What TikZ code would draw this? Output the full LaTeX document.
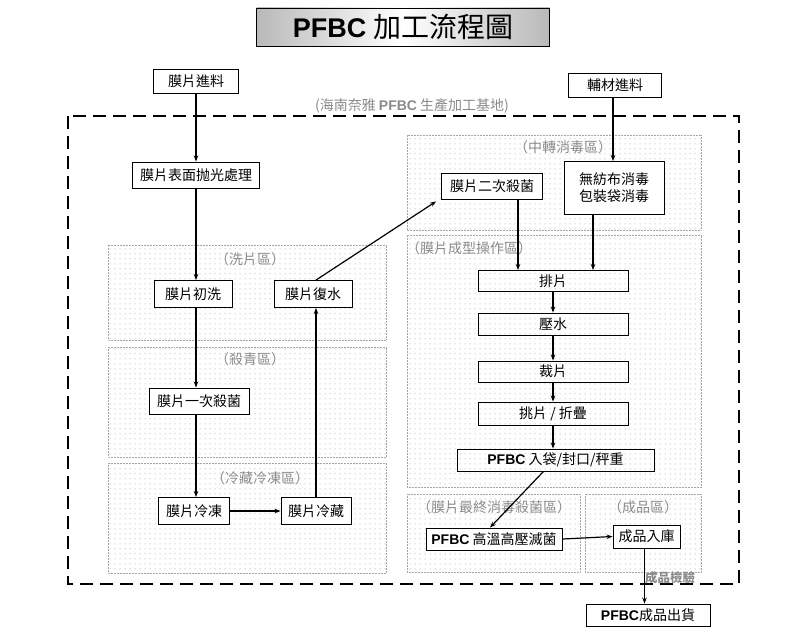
\documentclass[tikz,border=0pt]{standalone}
\usepackage{fontspec}
\setmainfont{Liberation Sans}
\newfontfamily\cjk{Noto Sans CJK TC}
\usetikzlibrary{arrows.meta,patterns.meta}
\newcommand\pfb[1]{{\normalfont\bfseries #1}}
\definecolor{lblgray}{HTML}{8A8A8A}
\begin{document}
\begin{tikzpicture}[x=1pt,y=-1pt,
  box/.style={draw, line width=0.9pt, fill=white, inner sep=0pt, align=center,
    font=\cjk\fontsize{14}{17}\selectfont},
  obox/.style={box, fill=none},
  region/.style={draw=gray!70, densely dotted, line width=0.5pt,
    pattern={Dots[distance=5pt,radius=0.5pt]}, pattern color=gray!90},
  rlabel/.style={text=lblgray, inner sep=0pt, font=\cjk\fontsize{14}{17}\selectfont},
  arr/.style={-{Stealth[length=6pt,width=4.5pt]}, line width=1.2pt},
]
\useasboundingbox (0,0) rectangle (803,644);

% title
\node[draw, line width=0.9pt, minimum width=293pt, minimum height=38pt, inner sep=0pt,
  left color=gray!55, right color=gray!55, middle color=white] (title) at (403,27)
  {\pfb{\fontsize{27}{30}\selectfont PFBC}\hspace{7pt}{\cjk\fontsize{28}{30}\selectfont 加工流程圖}};

% regions
\draw[region] (407,135) rectangle (701,230);
\draw[region] (407,235) rectangle (701,487);
\draw[region] (407,494) rectangle (580,572);
\draw[region] (585,494) rectangle (701,572);
\draw[region] (108,245) rectangle (386,340);
\draw[region] (108,347) rectangle (386,457);
\draw[region] (108,463) rectangle (386,573);

\node[rlabel] (lmid) at (563,147) {（中轉消毒區）};
\node[rlabel, anchor=west] (lform) at (406,248) {（膜片成型操作區）};
\node[rlabel] (lfin) at (494,507) {（膜片最終消毒殺菌區）};
\node[rlabel] (lprod) at (643,507) {（成品區）};
\node[rlabel] (lwash) at (250,259) {（洗片區）};
\node[rlabel] (lkill) at (250,359) {（殺青區）};
\node[rlabel] (lcold) at (260,478) {（冷藏冷凍區）};

% outer dashed frame
\draw[dash pattern=on 13pt off 7pt, line width=1.3pt] (68,116) rectangle (739,584);
\node[rlabel] (lbase) at (412,106) {(海南奈雅 \pfb{PFBC} 生產加工基地)};
\node[rlabel, font=\cjk\bfseries\fontsize{12.5}{14}\selectfont] (lcheck) at (670,578) {成品檢驗};

% nodes
\node[box, minimum width=85pt, minimum height=24pt] (pmat) at (196,81) {膜片進料};
\node[box, minimum width=127pt, minimum height=26pt] (polish) at (196,175) {膜片表面抛光處理};
\node[box, minimum width=78pt, minimum height=27pt] (wash) at (193,294) {膜片初洗};
\node[box, minimum width=78pt, minimum height=27pt] (rehyd) at (313,294) {膜片復水};
\node[box, minimum width=100pt, minimum height=26pt] (kill1) at (199,401) {膜片一次殺菌};
\node[box, minimum width=71pt, minimum height=27pt] (freeze) at (194,511) {膜片冷凍};
\node[box, minimum width=70pt, minimum height=27pt] (chill) at (316,511) {膜片冷藏};

\node[box, minimum width=93pt, minimum height=24pt] (aux) at (615,85) {輔材進料};
\node[box, minimum width=101pt, minimum height=26pt] (kill2) at (492,186) {膜片二次殺菌};
\node[box, minimum width=100pt, minimum height=53pt] (nonwoven) at (614,188) {無紡布消毒\\包裝袋消毒};

\node[obox, minimum width=150pt, minimum height=21pt] (pai) at (553,281) {排片};
\node[obox, minimum width=150pt, minimum height=22pt] (press) at (553,324) {壓水};
\node[obox, minimum width=150pt, minimum height=21pt] (cut) at (553,371.5) {裁片};
\node[obox, minimum width=150pt, minimum height=23pt] (fold) at (553,413.5) {挑片 / 折疊};
\node[obox, minimum width=197pt, minimum height=22pt] (bag) at (555.5,460) {\pfb{PFBC} 入袋/封口/秤重};

\node[box, minimum width=136pt, minimum height=22pt] (steril) at (494,539) {\pfb{PFBC} 高溫高壓滅菌};
\node[box, minimum width=67pt, minimum height=23pt] (store) at (646.5,536.5) {成品入庫};
\node[box, minimum width=124pt, minimum height=22pt] (ship) at (648,615) {\pfb{PFBC}成品出貨};

% connectors
\draw[arr] (pmat.south) -- (pmat.south |- polish.north);
\draw[arr] (polish.south) -- (polish.south |- wash.north);
\draw[arr] (polish.south |- wash.south) -- (polish.south |- kill1.north);
\draw[arr] (polish.south |- kill1.south) -- (polish.south |- freeze.north);
\draw[arr] (freeze.east) -- (chill.west);
\draw[arr] (chill.north) -- (chill.north |- rehyd.south);
\draw[arr] ([xshift=3pt]rehyd.north) -- ([xshift=-5pt,yshift=-2pt]kill2.south west);
\draw[arr] (aux.south -| 613,0) -- (613,0 |- nonwoven.north);
\draw[arr] ([xshift=26pt]kill2.south) -- ([xshift=26pt]kill2.south |- pai.north);
\draw[arr] ([xshift=-21pt]nonwoven.south) -- ([xshift=-21pt]nonwoven.south |- pai.north);
\draw[arr] (pai.south) -- (press.north);
\draw[arr] (press.south) -- (cut.north);
\draw[arr] (cut.south) -- (fold.north);
\draw[arr] (fold.south) -- (fold.south |- bag.north);
\draw[arr] ([xshift=-12pt]bag.south) -- ([xshift=-4pt]steril.north);
\draw[arr] (steril.east) -- (store.west);
\draw[arr] ([xshift=-2pt]store.south) -- ([xshift=-2pt]store.south |- ship.north);
\end{tikzpicture}
\end{document}
